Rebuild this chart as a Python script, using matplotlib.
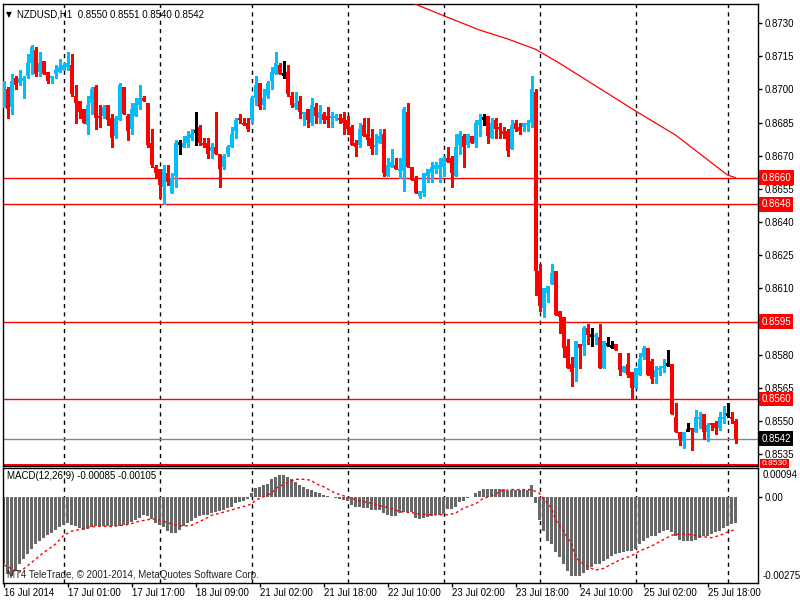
import matplotlib
matplotlib.use("Agg")
import matplotlib.pyplot as plt
from matplotlib.transforms import blended_transform_factory

plt.rcParams['font.family'] = ['Liberation Sans', 'DejaVu Sans']

# ---------------- data (NZDUSD H1) ----------------
opens = [0.8693,0.8700,0.8692,0.8705,0.8703,0.8704,0.8706,0.8712,0.8718,0.8708,
         0.8713,0.8708,0.8705,0.8707,0.8708,0.8709,0.8710,0.8711,0.8697,0.8695,
         0.8691,0.8684,0.8694,0.8701,0.8688,0.8688,0.8693,0.8687,0.8679,0.8686,
         0.8701,0.8688,0.8682,0.8688,0.8693,0.8696,0.8694,0.8676,0.8665,0.8664,
         0.8656,0.8662,0.8653,0.8661,0.8676,0.8674,0.8676,0.8678,0.8681,0.8683,
         0.8676,0.8676,0.8672,0.8674,0.8671,0.8665,0.8671,0.8674,0.8681,0.8687,
         0.8685,0.8685,0.8686,0.8696,0.8703,0.8693,0.8697,0.8704,0.8707,0.8711,
         0.8707,0.8708,0.8697,0.8692,0.8695,0.8689,0.8691,0.8685,0.8692,0.8687,
         0.8689,0.8688,0.8687,0.8687,0.8687,0.8687,0.8686,0.8683,0.8676,0.8675,
         0.8684,0.8680,0.8678,0.8674,0.8676,0.8680,0.8661,0.8665,0.8666,0.8663,
         0.8663,0.8690,0.8665,0.8660,0.8652,0.8653,0.8661,0.8662,0.8664,0.8664,
         0.8665,0.8669,0.8669,0.8661,0.8675,0.8679,0.8675,0.8679,0.8676,0.8684,
         0.8687,0.8688,0.8678,0.8686,0.8683,0.8681,0.8681,0.8673,0.8685,0.8683,
         0.8683,0.8684,0.8685,0.8699,0.8618,0.8601,0.8608,0.8612,0.8618,0.8600,
         0.8597,0.8584,0.8576,0.8574,0.8585,0.8584,0.8592,0.8589,0.8588,0.8588,
         0.8574,0.8585,0.8584,0.8585,0.8581,0.8572,0.8576,0.8572,0.8565,0.8571,
         0.8579,0.8583,0.8577,0.8570,0.8573,0.8574,0.8576,0.8576,0.8552,0.8545,
         0.8541,0.8546,0.8547,0.8545,0.8551,0.8553,0.8545,0.8549,0.8549,0.8547,
         0.8551,0.8553,0.8552,0.8550]
highs = [0.8704,0.8701,0.8707,0.8706,0.8709,0.8706,0.8716,0.8720,0.8719,0.8717,
         0.8713,0.8708,0.8706,0.8711,0.8714,0.8712,0.8717,0.8716,0.8702,0.8695,
         0.8691,0.8697,0.8701,0.8702,0.8693,0.8693,0.8693,0.8689,0.8688,0.8703,
         0.8701,0.8689,0.8694,0.8696,0.8702,0.8697,0.8694,0.8682,0.8666,0.8664,
         0.8666,0.8666,0.8662,0.8677,0.8677,0.8679,0.8681,0.8682,0.8690,0.8684,
         0.8678,0.8678,0.8676,0.8690,0.8671,0.8671,0.8675,0.8683,0.8687,0.8689,
         0.8687,0.8687,0.8697,0.8706,0.8703,0.8700,0.8704,0.8710,0.8717,0.8712,
         0.8713,0.8711,0.8699,0.8699,0.8697,0.8690,0.8691,0.8696,0.8694,0.8693,
         0.8690,0.8692,0.8690,0.8689,0.8689,0.8690,0.8688,0.8684,0.8677,0.8685,
         0.8687,0.8687,0.8682,0.8680,0.8682,0.8682,0.8669,0.8673,0.8669,0.8669,
         0.8692,0.8694,0.8665,0.8661,0.8654,0.8662,0.8664,0.8667,0.8667,0.8669,
         0.8670,0.8674,0.8670,0.8680,0.8681,0.8680,0.8680,0.8679,0.8686,0.8689,
         0.8689,0.8688,0.8687,0.8687,0.8685,0.8683,0.8682,0.8686,0.8686,0.8685,
         0.8685,0.8686,0.8706,0.8700,0.8621,0.8610,0.8611,0.8621,0.8618,0.8600,
         0.8597,0.8587,0.8579,0.8586,0.8585,0.8593,0.8594,0.8592,0.8590,0.8594,
         0.8586,0.8588,0.8586,0.8585,0.8581,0.8575,0.8581,0.8572,0.8574,0.8581,
         0.8584,0.8583,0.8578,0.8575,0.8575,0.8578,0.8582,0.8576,0.8558,0.8545,
         0.8545,0.8549,0.8547,0.8555,0.8554,0.8553,0.8549,0.8549,0.8550,0.8554,
         0.8557,0.8558,0.8554,0.8551]
lows = [0.8692,0.8687,0.8689,0.8700,0.8702,0.8696,0.8705,0.8707,0.8706,0.8706,
        0.8707,0.8703,0.8703,0.8705,0.8708,0.8709,0.8709,0.8697,0.8685,0.8687,
        0.8685,0.8680,0.8689,0.8682,0.8683,0.8687,0.8684,0.8674,0.8678,0.8686,
        0.8689,0.8677,0.8680,0.8688,0.8691,0.8695,0.8674,0.8665,0.8660,0.8651,
        0.8648,0.8657,0.8653,0.8656,0.8671,0.8674,0.8674,0.8677,0.8675,0.8675,
        0.8674,0.8669,0.8669,0.8671,0.8656,0.8664,0.8670,0.8674,0.8678,0.8685,
        0.8684,0.8681,0.8685,0.8693,0.8691,0.8691,0.8696,0.8700,0.8707,0.8707,
        0.8705,0.8697,0.8692,0.8691,0.8687,0.8684,0.8683,0.8684,0.8685,0.8685,
        0.8685,0.8683,0.8683,0.8686,0.8685,0.8680,0.8680,0.8675,0.8670,0.8674,
        0.8679,0.8675,0.8671,0.8671,0.8676,0.8661,0.8661,0.8665,0.8664,0.8660,
        0.8654,0.8665,0.8659,0.8653,0.8651,0.8652,0.8658,0.8658,0.8662,0.8658,
        0.8661,0.8667,0.8656,0.8661,0.8671,0.8665,0.8674,0.8676,0.8674,0.8679,
        0.8684,0.8676,0.8678,0.8678,0.8678,0.8678,0.8670,0.8673,0.8681,0.8680,
        0.8681,0.8681,0.8683,0.8607,0.8600,0.8597,0.8604,0.8612,0.8598,0.8590,
        0.8579,0.8574,0.8566,0.8568,0.8574,0.8580,0.8585,0.8584,0.8585,0.8574,
        0.8574,0.8584,0.8583,0.8582,0.8571,0.8572,0.8570,0.8560,0.8565,0.8571,
        0.8578,0.8571,0.8567,0.8567,0.8571,0.8572,0.8575,0.8553,0.8545,0.8539,
        0.8538,0.8546,0.8537,0.8545,0.8547,0.8542,0.8541,0.8546,0.8544,0.8546,
        0.8549,0.8552,0.8549,0.8540]
closes = [0.8701,0.8691,0.8704,0.8702,0.8705,0.8705,0.8712,0.8719,0.8707,0.8712,
          0.8707,0.8704,0.8706,0.8709,0.8710,0.8711,0.8712,0.8698,0.8694,0.8690,
          0.8685,0.8693,0.8700,0.8687,0.8687,0.8692,0.8686,0.8678,0.8687,0.8702,
          0.8689,0.8681,0.8691,0.8694,0.8696,0.8695,0.8675,0.8666,0.8662,0.8657,
          0.8664,0.8658,0.8660,0.8676,0.8676,0.8676,0.8679,0.8680,0.8681,0.8676,
          0.8675,0.8671,0.8674,0.8671,0.8664,0.8670,0.8674,0.8680,0.8686,0.8686,
          0.8684,0.8682,0.8696,0.8702,0.8692,0.8696,0.8703,0.8708,0.8712,0.8707,
          0.8707,0.8698,0.8693,0.8694,0.8690,0.8690,0.8686,0.8693,0.8688,0.8690,
          0.8686,0.8686,0.8688,0.8688,0.8686,0.8685,0.8682,0.8675,0.8674,0.8682,
          0.8679,0.8677,0.8673,0.8675,0.8679,0.8662,0.8666,0.8667,0.8664,0.8664,
          0.8691,0.8665,0.8659,0.8653,0.8654,0.8662,0.8664,0.8665,0.8666,0.8666,
          0.8669,0.8667,0.8662,0.8674,0.8680,0.8674,0.8680,0.8676,0.8685,0.8686,
          0.8687,0.8679,0.8685,0.8682,0.8682,0.8680,0.8672,0.8684,0.8682,0.8681,
          0.8685,0.8685,0.8700,0.8618,0.8602,0.8610,0.8611,0.8617,0.8598,0.8597,
          0.8583,0.8574,0.8572,0.8586,0.8583,0.8592,0.8589,0.8589,0.8589,0.8574,
          0.8586,0.8585,0.8584,0.8582,0.8573,0.8575,0.8571,0.8565,0.8574,0.8578,
          0.8583,0.8571,0.8569,0.8573,0.8574,0.8575,0.8576,0.8553,0.8545,0.8542,
          0.8545,0.8546,0.8546,0.8552,0.8552,0.8545,0.8548,0.8548,0.8547,0.8552,
          0.8552,0.8553,0.8551,0.8542]

# moving average line (read points)
ma_bars = [102, 110, 119, 126, 133, 139, 158, 168, 181, 183]
ma_vals = [0.87393, 0.87334, 0.87269, 0.87229, 0.87182, 0.87119, 0.86903, 0.86794, 0.86613, 0.86601]

# horizontal levels
red_levels = [0.8660, 0.8648, 0.8595, 0.8560]
bottom_level = 0.8530
bid_level = 0.8542

# MACD histogram (main line)
macd_hist = [-0.00217,-0.00249,-0.00254,-0.00238,-0.00217,-0.00201,-0.00185,-0.00169,-0.00153,-0.00141,
             -0.00132,-0.00124,-0.00116,-0.00106,-0.00098,-0.00090,-0.00085,-0.00090,-0.00095,-0.00101,
             -0.00106,-0.00104,-0.00098,-0.00095,-0.00095,-0.00095,-0.00095,-0.00095,-0.00095,-0.00093,
             -0.00090,-0.00088,-0.00083,-0.00074,-0.00067,-0.00058,-0.00061,-0.00071,-0.00085,-0.00090,
             -0.00098,-0.00111,-0.00116,-0.00116,-0.00106,-0.00095,-0.00085,-0.00077,-0.00069,-0.00063,
             -0.00060,-0.00058,-0.00053,-0.00048,-0.00045,-0.00042,-0.00037,-0.00032,-0.00021,-0.00016,
             -0.00013,-0.00006,0.00011,0.00029,0.00032,0.00037,0.00042,0.00056,0.00063,0.00071,
             0.00071,0.00063,0.00058,0.00048,0.00039,0.00032,0.00024,0.00021,0.00016,0.00011,
             0.00005,0.00002,-0.00002,-0.00005,-0.00008,-0.00011,-0.00014,-0.00026,-0.00032,-0.00032,
             -0.00035,-0.00037,-0.00042,-0.00042,-0.00042,-0.00053,-0.00058,-0.00063,-0.00063,-0.00051,
             -0.00048,-0.00048,-0.00048,-0.00067,-0.00072,-0.00069,-0.00066,-0.00063,-0.00060,-0.00058,
             -0.00056,-0.00040,-0.00040,-0.00032,-0.00018,-0.00014,-0.00005,-0.00002,0.00011,0.00018,
             0.00026,0.00026,0.00024,0.00026,0.00026,0.00026,0.00018,0.00021,0.00021,0.00021,
             0.00021,0.00021,0.00037,-0.00019,-0.00076,-0.00111,-0.00141,-0.00153,-0.00178,-0.00194,
             -0.00217,-0.00238,-0.00254,-0.00254,-0.00254,-0.00245,-0.00235,-0.00227,-0.00217,-0.00217,
             -0.00208,-0.00201,-0.00190,-0.00183,-0.00180,-0.00177,-0.00175,-0.00175,-0.00169,-0.00153,
             -0.00141,-0.00132,-0.00127,-0.00125,-0.00116,-0.00111,-0.00106,-0.00114,-0.00127,-0.00138,
             -0.00143,-0.00143,-0.00143,-0.00138,-0.00132,-0.00127,-0.00125,-0.00120,-0.00114,-0.00109,
             -0.00101,-0.00095,-0.00088,-0.00085]

# MACD signal line (read points)
sig_bars = [0, 4, 7, 10, 13, 15, 17, 19, 21, 24, 27, 31, 34, 37, 39, 42, 45, 47, 50, 52,
            55, 59, 62, 63, 65, 67, 68, 70, 72, 73, 75, 77, 78, 80, 82, 83, 85, 87, 89, 92,
            94, 97, 99, 102, 104, 107, 109, 111, 113, 115, 118, 120, 123, 124, 127, 129, 132, 134, 135, 137,
            138, 140, 142, 143, 145, 147, 148, 150, 152, 154, 157, 159, 162, 164, 167, 169, 172, 174, 177, 179,
            181, 183]
sig_vals = [-0.00220,-0.00243,-0.00212,-0.00180,-0.00153,-0.00125,-0.00111,-0.00106,-0.00098,-0.00095,
            -0.00096,-0.00090,-0.00079,-0.00072,-0.00074,-0.00088,-0.00095,-0.00092,-0.00074,-0.00060,
            -0.00050,-0.00035,-0.00024,-0.00011,0.00000,0.00011,0.00026,0.00040,0.00050,0.00056,
            0.00056,0.00053,0.00042,0.00032,0.00018,0.00011,0.00003,-0.00005,-0.00014,-0.00021,
            -0.00029,-0.00037,-0.00048,-0.00051,-0.00056,-0.00058,-0.00058,-0.00058,-0.00053,-0.00037,
            -0.00023,-0.00005,0.00007,0.00018,0.00023,0.00023,0.00023,0.00011,-0.00005,-0.00037,
            -0.00074,-0.00111,-0.00153,-0.00196,-0.00217,-0.00231,-0.00236,-0.00231,-0.00217,-0.00204,
            -0.00190,-0.00175,-0.00159,-0.00145,-0.00124,-0.00120,-0.00122,-0.00127,-0.00132,-0.00125,
            -0.00114,-0.00105]

day_separators = [15, 39, 62, 86, 110, 134, 158, 181]
time_ticks = [0, 16, 32, 48, 64, 80, 96, 112, 128, 144, 160, 176]
time_labels = ["16 Jul 2014", "17 Jul 01:00", "17 Jul 17:00", "18 Jul 09:00", "21 Jul 02:00",
               "21 Jul 18:00", "22 Jul 10:00", "23 Jul 02:00", "23 Jul 18:00", "24 Jul 10:00",
               "25 Jul 02:00", "25 Jul 18:00"]
price_ticks = [0.8535, 0.8550, 0.8565, 0.8580, 0.8610, 0.8625, 0.8640, 0.8655,
               0.8670, 0.8685, 0.8700, 0.8715, 0.8730]

# ---------------- figure ----------------
W, H = 800, 600
fig = plt.figure(figsize=(8, 6), dpi=100)
fig.patch.set_facecolor('white')


def rect(x0, y0, x1, y1):
    return [x0 / W, 1 - y1 / H, (x1 - x0) / W, (y1 - y0) / H]


ax = fig.add_axes(rect(2.5, 3.5, 758, 465.5))
ax2 = fig.add_axes(rect(2.5, 467.5, 758, 582.5))

BLUE = '#00BFFF'
FS = 7
n = len(closes)
xs = list(range(n))

for a in (ax, ax2):
    a.set_xlim(-0.25, 188.625)
    for s in a.spines.values():
        s.set_color('black')
        s.set_linewidth(1)
    for b in day_separators:
        a.axvline(b, color='black', lw=1, ls=(0, (3, 3)), zorder=1)

ax.set_ylim(0.85299, 0.87389)
ax2.set_ylim(-0.002762, 0.00094)

# horizontal levels
for lv in red_levels:
    ax.axhline(lv, color='red', lw=1, zorder=2)
ax.axhline(bottom_level, color='red', lw=2.2, zorder=2)
ax.axhline(bid_level, color='#778899', lw=1, zorder=2)

# moving average
ax.plot(ma_bars, ma_vals, color='red', lw=0.9, zorder=3)

# candles
cols = []
for o, c in zip(opens, closes):
    cols.append(BLUE if c > o else ('red' if c < o else 'black'))
ax.vlines(xs, lows, highs, colors=cols, lw=1, zorder=4, antialiased=False)
bx, bb, bh, bc = [], [], [], []
dx, dy = [], []
for i, (o, c) in enumerate(zip(opens, closes)):
    if c == o:
        dx.append(i)
        dy.append(o)
    else:
        bx.append(i)
        bb.append(min(o, c))
        bh.append(abs(c - o))
        bc.append(cols[i])
ax.bar(bx, bh, bottom=bb, width=0.75, color=bc, linewidth=0, zorder=5, antialiased=False)
for x, y in zip(dx, dy):
    ax.hlines(y, x - 0.375, x + 0.375, color='black', lw=1, zorder=5, antialiased=False)

# price axis
ax.set_xticks([])
ax.yaxis.tick_right()
ax.set_yticks(price_ticks)
ax.set_yticklabels([f"{v:.4f}" for v in price_ticks])
ax.tick_params(axis='y', direction='out', length=3, width=1, pad=2, labelsize=FS, colors='black')

trans = blended_transform_factory(ax.transAxes, ax.transData)
for lv in red_levels:
    ax.text(1.0045, lv, f"{lv:.4f}", transform=trans, ha='left', va='center', fontsize=FS,
            color='white', clip_on=False, zorder=10,
            bbox=dict(boxstyle='square,pad=0.25', fc='red', ec='none'))
ax.text(1.0045, bid_level, f"{bid_level:.4f}", transform=trans, ha='left', va='center', fontsize=FS,
        color='white', clip_on=False, zorder=10,
        bbox=dict(boxstyle='square,pad=0.25', fc='black', ec='none'))
# bottom level label, squeezed at the lower edge of the price panel
ax.text(1.0045, 0.0045, f"{bottom_level:.4f}", transform=ax.transAxes, ha='left', va='center',
        fontsize=FS - 1, color='white', clip_on=False, zorder=10,
        bbox=dict(boxstyle='square,pad=0.15', fc='red', ec='none'))

ax.text(0.005, 0.985, "\u25BC", transform=ax.transAxes, fontsize=5.5, ha='left', va='top',
        family=['DejaVu Sans'])
ax.text(0.019, 0.988, "NZDUSD,H1  0.8550 0.8551 0.8540 0.8542", transform=ax.transAxes,
        fontsize=FS, ha='left', va='top', color='black')

# MACD panel
ax2.bar(xs, macd_hist, width=0.75, color='#686868', linewidth=0, zorder=2, antialiased=False)
ax2.plot(sig_bars, sig_vals, color='red', lw=1, ls=(0, (2, 2)), zorder=3)
ax2.yaxis.tick_right()
ax2.set_yticks([0.0])
ax2.set_yticklabels(["0.00"])
ax2.tick_params(axis='y', direction='out', length=3, width=1, pad=2, labelsize=FS, colors='black')
ax2.text(1.0065, 0.935, "0.00094", transform=ax2.transAxes, ha='left', va='center', fontsize=FS,
         clip_on=False)
ax2.text(1.0065, 0.058, "-0.00275", transform=ax2.transAxes, ha='left', va='center', fontsize=FS,
         clip_on=False)
ax2.set_xticks(time_ticks)
ax2.set_xticklabels(time_labels, ha='left')
ax2.tick_params(axis='x', direction='out', length=3, width=1, pad=1, labelsize=FS, colors='black')
ax2.text(0.006, 0.925, "MACD(12,26,9) -0.00085 -0.00105", transform=ax2.transAxes, fontsize=FS,
         ha='left', va='center', color='black')
ax2.text(0.006, 0.068, "MT4 TeleTrade, \u00a9 2001-2014, MetaQuotes Software Corp.",
         transform=ax2.transAxes, fontsize=FS, ha='left', va='center', color='#222222', zorder=6)

fig.savefig('out.png', dpi=100)
